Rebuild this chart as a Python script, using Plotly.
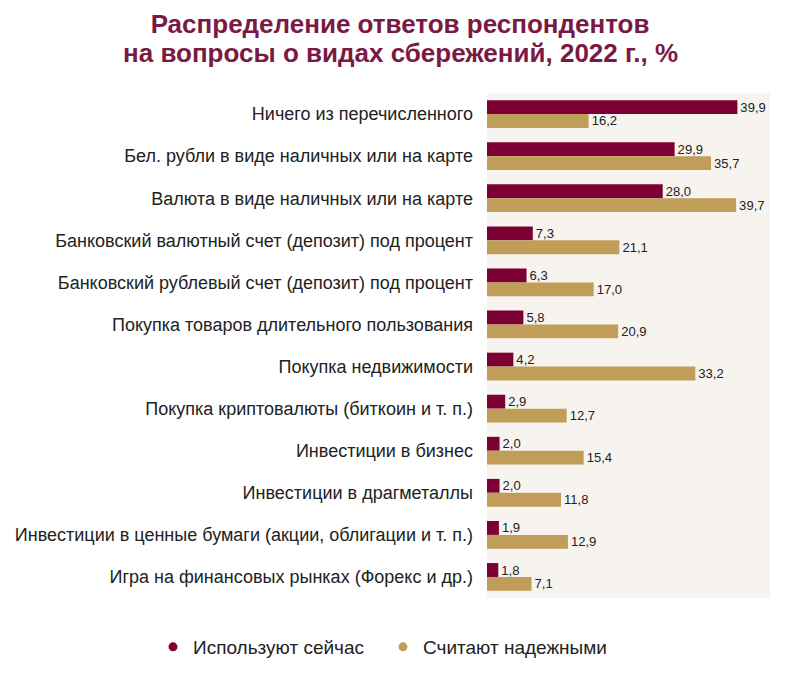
import plotly.graph_objects as go

categories = [
    "Ничего из перечисленного",
    "Бел. рубли в виде наличных или на карте",
    "Валюта в виде наличных или на карте",
    "Банковский валютный счет (депозит) под процент",
    "Банковский рублевый счет (депозит) под процент",
    "Покупка товаров длительного пользования",
    "Покупка недвижимости",
    "Покупка криптовалюты (биткоин и т. п.)",
    "Инвестиции в бизнес",
    "Инвестиции в драгметаллы",
    "Инвестиции в ценные бумаги (акции, облигации и т. п.)",
    "Игра на финансовых рынках (Форекс и др.)",
]
use_now = [39.9, 29.9, 28.0, 7.3, 6.3, 5.8, 4.2, 2.9, 2.0, 2.0, 1.9, 1.8]
reliable = [16.2, 35.7, 39.7, 21.1, 17.0, 20.9, 33.2, 12.7, 15.4, 11.8, 12.9, 7.1]
series_names = ["Используют сейчас", "Считают надежными"]
title_lines = ["Распределение ответов респондентов", "на вопросы о видах сбережений, 2022 г., %"]

MAROON = "#7d0034"
GOLD = "#c09e5a"
TITLE_COL = "#7a1a44"
FONT = "Liberation Sans, Arial, sans-serif"

def fmt(v):
    return f"{v:.1f}".replace(".", ",")

fig = go.Figure()
for name, vals, col in [(series_names[0], use_now, MAROON), (series_names[1], reliable, GOLD)]:
    fig.add_trace(go.Bar(
        y=categories, x=vals, orientation="h", name=name,
        marker=dict(color=col, line=dict(width=0)),
        text=[fmt(v) for v in vals], textposition="outside",
        textfont=dict(size=16, color="#222222", family=FONT),
        cliponaxis=False, showlegend=False,
    ))
    fig.add_trace(go.Scatter(
        x=[None], y=[None], mode="markers", name=name,
        marker=dict(color=col, size=9, symbol="circle"),
    ))

W, H = 792, 677
L, R, T, B = 479, 30, 85, 87
plot_h = H - T - B
plot_w = W - L - R

def paper_y(fig_y):
    return 1 + (T - fig_y) / plot_h

def paper_x(fig_x):
    return (fig_x - L) / plot_w

fig.update_layout(
    width=W, height=H,
    paper_bgcolor="white", plot_bgcolor="#f7f4ef",
    margin=dict(l=L, r=R, t=T, b=B),
    barmode="group", bargap=0.34, bargroupgap=0,
    font=dict(family=FONT, size=14, color="#222222"),
    title=dict(
        text=title_lines[0],
        x=0.495, xanchor="center", xref="container", y=1 - 16 / H, yanchor="middle", yref="container",
        font=dict(size=26, color=TITLE_COL, family=FONT, weight="bold"),
    ),
    annotations=[dict(
        text=title_lines[1], xref="paper", yref="paper",
        x=paper_x(392), y=paper_y(45), xanchor="center", yanchor="middle",
        showarrow=False, font=dict(size=26, color=TITLE_COL, family=FONT, weight="bold"),
    )],
    xaxis=dict(range=[0, 45.1], showgrid=False, showticklabels=False, zeroline=False, ticks="",
               fixedrange=True),
    yaxis=dict(autorange="reversed", showgrid=False, ticks="", ticklabelstandoff=13,
               automargin=False, tickfont=dict(size=18, color="#222222")),
    legend=dict(orientation="h", xref="paper", yref="paper", x=paper_x(145), y=paper_y(639),
                xanchor="left", yanchor="middle", font=dict(size=19, color="#222222"),
                itemwidth=30, tracegroupgap=0, entrywidth=185, entrywidthmode="pixels"),
    showlegend=True,
)

fig.write_html("out.html")
